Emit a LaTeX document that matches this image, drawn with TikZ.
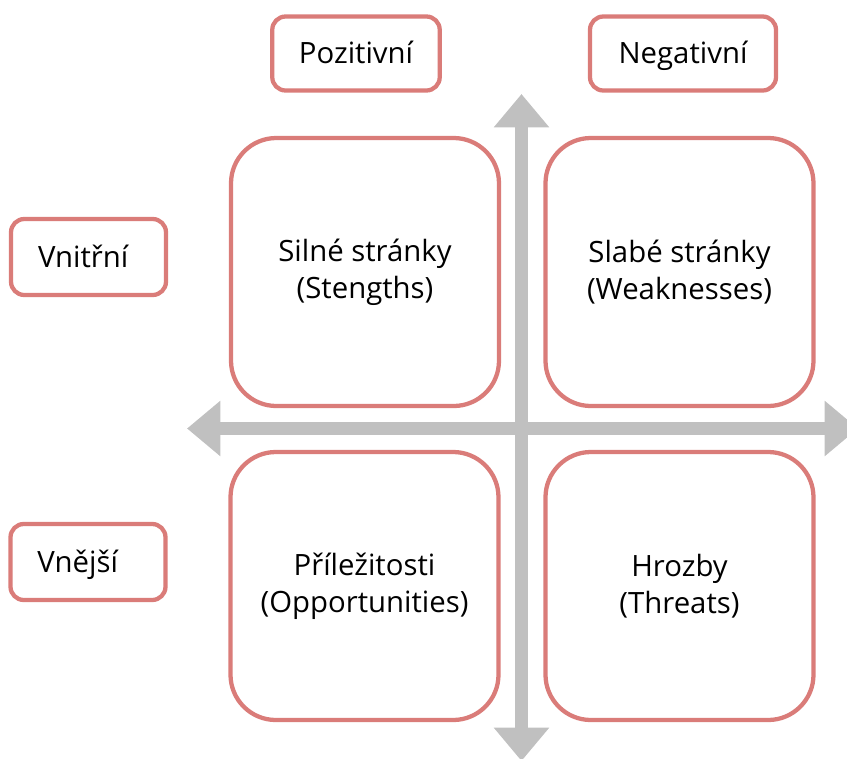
\documentclass[tikz,border=0pt]{standalone}
\usepackage{fontspec}
\setmainfont{Open Sans}
\usetikzlibrary{arrows.meta}
\definecolor{swotred}{RGB}{218,124,121}
\definecolor{axisgray}{RGB}{192,192,192}
\tikzset{
	swotbox/.style={
		draw=swotred, line width=3.2pt, fill=white, rounded corners=34pt,
		minimum width=201pt, minimum height=201pt, align=center,
		font=\fontsize{22}{28}\selectfont},
	headbox/.style={
		draw=swotred, line width=3.2pt, fill=white, rounded corners=10pt,
		minimum height=55.5pt, text height=15.7pt, text depth=0pt,
		font=\fontsize{22}{28}\selectfont},
	sidebox/.style={
		headbox, minimum height=57pt, minimum width=116.25pt,
		text width=75.75pt, inner xsep=20pt, align=left},
	axisarrow/.style={
		draw=axisgray, line width=10pt,
		arrows={Triangle[width=40pt,length=25pt]-Triangle[width=40pt,length=25pt]}}
}

\begin{document}
\begin{tikzpicture}[x=0.75pt,y=0.75pt,yscale=-1,xscale=1]
\clip (0,0) rectangle (847,758); %picture is 847 x 758

% axes
\coordinate (top) at (521.5,94);
\coordinate (bottom) at (521.5,761);
\coordinate (left) at (187,428.5);
\coordinate (right) at (858,428.5);
\draw [axisarrow] (bottom) -- (top);
\draw [axisarrow] (left) -- (right);

% column and row headers
\node [headbox, minimum width=125.6pt] (pozitivni) at (356,53.5) {Pozitivní};
\node [headbox, minimum width=139.5pt] (negativni) at (683,53.5) {Negativní};
\node [sidebox] (vnitrni) at (88.5,257) {Vnitřní};
\node [sidebox] (vnejsi) at (88,562) {Vnější};

% quadrants
\node [swotbox] (silne) at (365,272) {Silné stránky\\(Stengths)};
\node [swotbox] (slabe) at (679.5,272) {Slabé stránky\\(Weaknesses)};
\node [swotbox] (prilezitosti) at (364.5,586) {Příležitosti\\(Opportunities)};
\node [swotbox] (hrozby) at (679.5,586) {Hrozby\\(Threats)};

\end{tikzpicture}
\end{document}
